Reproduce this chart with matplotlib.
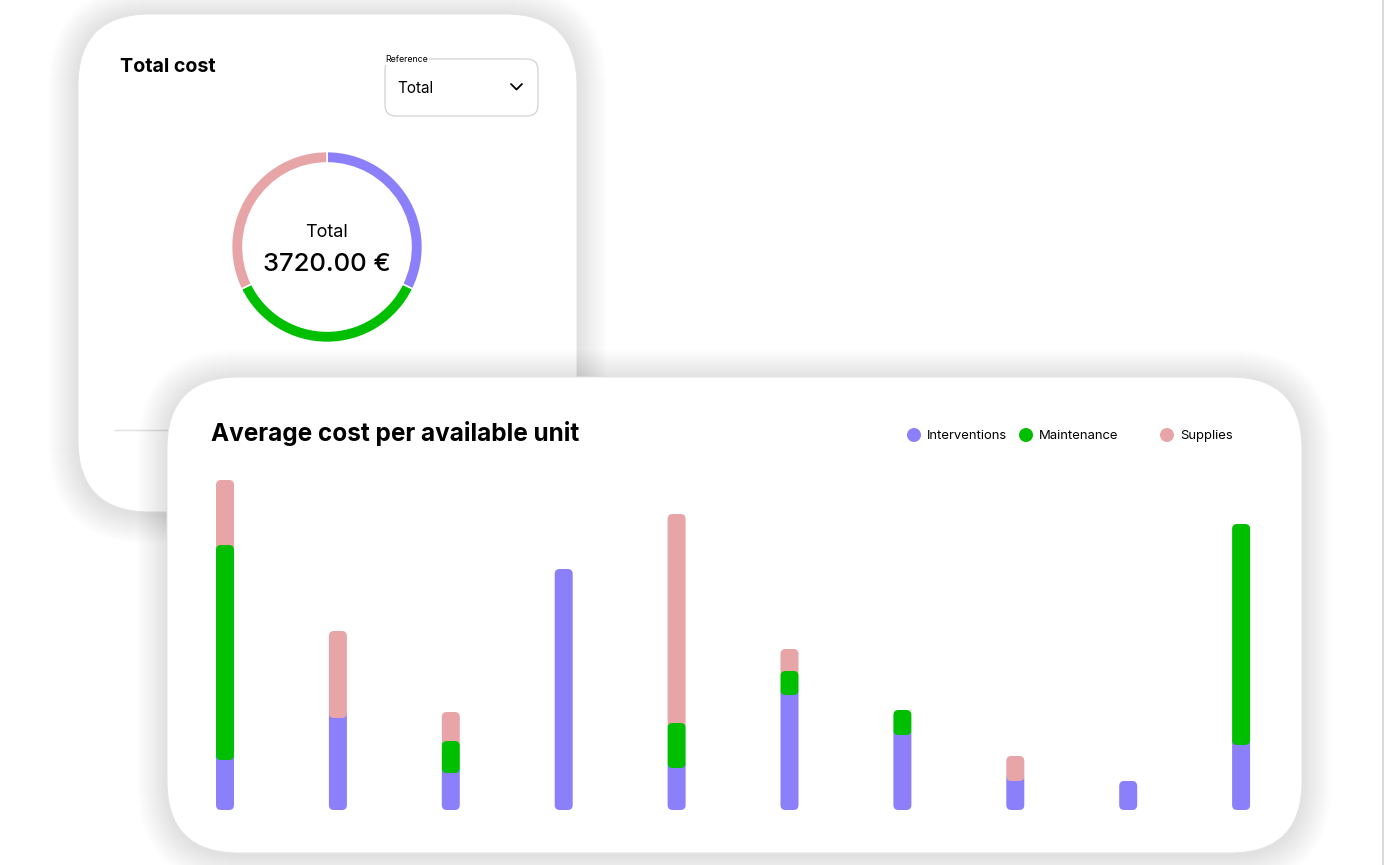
import matplotlib
matplotlib.use("Agg")
import matplotlib.pyplot as plt
from matplotlib.patches import FancyBboxPatch, Circle
import numpy as np

# ---------------- data ----------------
series = ["Interventions", "Maintenance", "Supplies"]
colors = ["#8B80F9", "#00BF00", "#E8A5A8"]
donut_values = [1200, 1320, 1200]        # euros, total 3720
donut_total_label = "3720.00 €"

units = list(range(10))
interventions = [50, 92, 37, 241, 42, 115, 75, 29, 29, 65]
maintenance   = [215, 0, 32, 0, 45, 24, 25, 0, 0, 221]
supplies      = [65, 87, 29, 0, 209, 22, 0, 25, 0, 0]

FONT = "Inter"
W, H = 1384, 865
fig = plt.figure(figsize=(W / 100, H / 100), dpi=100)
fig.patch.set_facecolor("white")

bg = fig.add_axes([0, 0, 1, 1])
bg.set_xlim(0, W)
bg.set_ylim(H, 0)
bg.axis("off")


def card(x0, y0, x1, y1, r, z):
    # soft shadow
    for k in range(30, 0, -1):
        sh = FancyBboxPatch((x0 - k, y0 - k + 2), (x1 - x0) + 2 * k, (y1 - y0) + 2 * k,
                            boxstyle=f"round,pad=0,rounding_size={r + k}",
                            facecolor="black", edgecolor="none", alpha=0.0031, zorder=z)
        bg.add_patch(sh)
    c = FancyBboxPatch((x0, y0), x1 - x0, y1 - y0,
                       boxstyle=f"round,pad=0,rounding_size={r}",
                       facecolor="white", edgecolor="#e4e4e4", linewidth=0.7, zorder=z + 0.1)
    bg.add_patch(c)


# right-edge thin line
bg.plot([W - 1.5, W - 1.5], [0, H], color="#d6d6d6", lw=1.2, zorder=0.5)

# top card
card(78, 14, 577, 512, 72, 1)
bg.text(120, 72, "Total cost", fontsize=14.2, fontweight="bold", family=FONT,
        color="black", ha="left", va="baseline", zorder=2)
bg.plot([115, 577], [430, 430], color="#e0e0e0", lw=1, zorder=1.5)

# dropdown
dd = FancyBboxPatch((385, 59), 153, 57, boxstyle="round,pad=0,rounding_size=11",
                    facecolor="white", edgecolor="#d2d2d2", linewidth=0.9, zorder=2)
bg.add_patch(dd)
bg.text(385, 59, "Reference", fontsize=6.3, family=FONT, color="black",
        ha="left", va="center", zorder=3,
        bbox=dict(boxstyle="square,pad=0.15", facecolor="white", edgecolor="none"))
bg.text(397, 93, "Total", fontsize=11, family=FONT, color="black",
        ha="left", va="baseline", zorder=3)
bg.plot([511, 516.5, 522], [84, 89.5, 84], color="black", lw=1.3,
        solid_capstyle="round", solid_joinstyle="round", zorder=3)

# donut centre texts
bg.text(327, 237, "Total", fontsize=13, family=FONT, color="black",
        ha="center", va="baseline", zorder=3)
bg.text(327, 271, donut_total_label, fontsize=18.5, family=FONT, fontweight="medium",
        color="black", ha="center", va="baseline", zorder=3)

# bottom card
card(167, 377, 1302, 853, 72, 4)
bg.text(211, 441, "Average cost per available unit", fontsize=17.5, fontweight="bold",
        family=FONT, color="black", ha="left", va="baseline", zorder=6)

# legend
leg_x = [914, 1026, 1167]
for lx, name, col in zip(leg_x, series, colors):
    bg.add_patch(Circle((lx, 435), 7, facecolor=col, edgecolor="none", zorder=6))
    bg.text(lx + 13, 439, name, fontsize=9.4, family=FONT, color="black",
            ha="left", va="baseline", zorder=6)

# ---------------- donut ----------------
cx, cy, R = 327, 247, 100
dax = fig.add_axes([(cx - R) / W, (H - cy - R) / H, 2 * R / W, 2 * R / H])
dax.pie(donut_values, colors=colors, startangle=90, counterclock=False, radius=0.955,
        wedgeprops=dict(width=0.115, edgecolor="white", linewidth=1.2))
dax.set_xlim(-1, 1)
dax.set_ylim(-1, 1)
dax.axis("off")
dax.set_zorder(2)

# ---------------- stacked bars ----------------
px_per_unit = 112.9
baseline = 810
ymax = 350
left_px = 225 - 0.5 * px_per_unit
bax = fig.add_axes([left_px / W, (H - baseline) / H, 10 * px_per_unit / W, ymax / H])
bax.set_xlim(-0.5, 9.5)
bax.set_ylim(0, ymax)
bax.axis("off")
bax.patch.set_alpha(0)
bax.set_zorder(5)

bar_w_px = 18
bw = bar_w_px / px_per_unit
rad_px = 5
mut = (1.0) / (1.0 / px_per_unit)  # y-units per px / x-units per px
zorders = [1, 3, 2]

vals = np.array([interventions, maintenance, supplies], dtype=float)
# draw bars through matplotlib's bar machinery (invisible), then rounded patches on them
bottom = np.zeros(len(units))
for si in range(3):
    bars = bax.bar(units, vals[si], bw, bottom=bottom, color=colors[si], alpha=0)
    for i, rect in enumerate(bars):
        h = rect.get_height()
        if h <= 0:
            continue
        y0 = rect.get_y()
        y1 = y0 + h
        # extend behind neighbouring segments that are drawn above
        if si > 0 and vals[:si, i].sum() > 0:
            prev = max(j for j in range(si) if vals[j, i] > 0)
            if zorders[prev] > zorders[si]:
                y0 -= rad_px * 1.5
        if si < 2 and vals[si + 1:, i].sum() > 0:
            nxt = min(j for j in range(si + 1, 3) if vals[j, i] > 0)
            if zorders[nxt] > zorders[si]:
                y1 += rad_px * 1.5
        p = FancyBboxPatch((rect.get_x(), y0), rect.get_width(), y1 - y0,
                           boxstyle=f"round,pad=0,rounding_size={rad_px / px_per_unit}",
                           mutation_aspect=mut, facecolor=colors[si], edgecolor="none",
                           zorder=zorders[si])
        bax.add_patch(p)
    bottom = bottom + vals[si]

fig.savefig("out.png", dpi=100, facecolor="white")
